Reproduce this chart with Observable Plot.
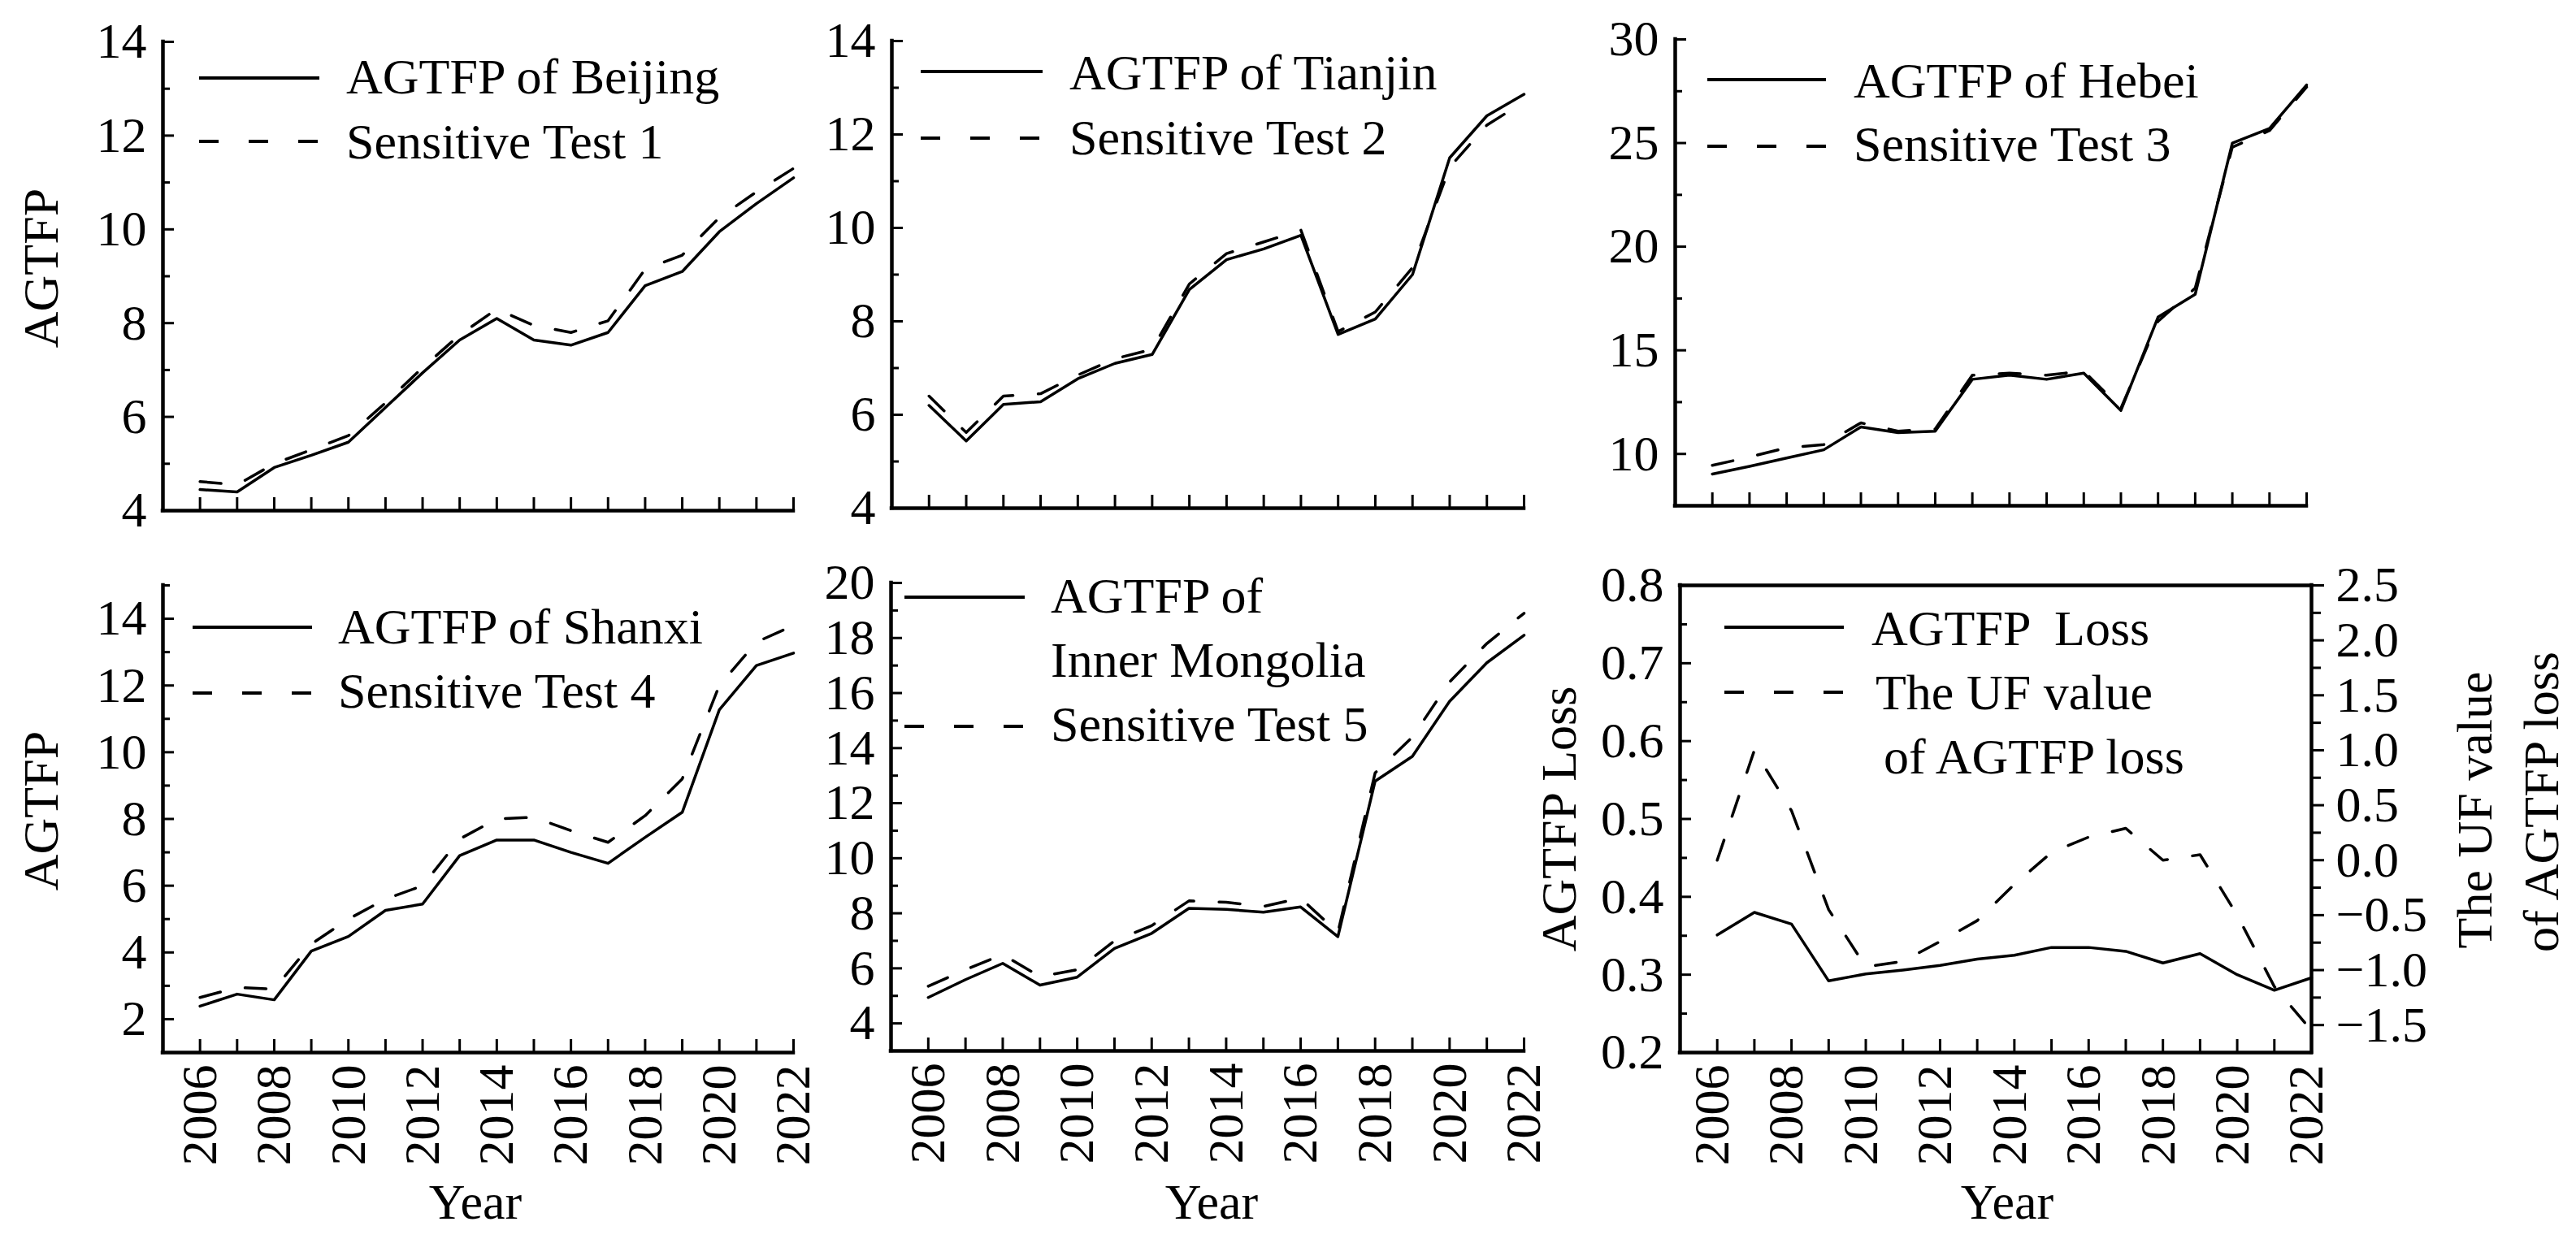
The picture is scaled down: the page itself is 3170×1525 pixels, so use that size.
<!DOCTYPE html>
<html><head><meta charset="utf-8">
<script src="https://cdn.jsdelivr.net/npm/d3@7"></script>
<script src="https://cdn.jsdelivr.net/npm/@observablehq/plot@0.6"></script>
<style>
html,body{margin:0;padding:0;background:#fff;}
#chart{position:relative;width:3170px;height:1525px;background:#fff;overflow:hidden;}
#chart svg{position:absolute;left:0;top:0;}
</style></head><body><div id="chart"></div>
<script>
// ---------------- data ----------------
const years = [2006,2007,2008,2009,2010,2011,2012,2013,2014,2015,2016,2017,2018,2019,2020,2021,2022];
const labelYears = [2006,2008,2010,2012,2014,2016,2018,2020,2022];

const beijing = [4.45,4.4,4.92,5.18,5.46,6.2,6.94,7.64,8.1,7.64,7.53,7.8,8.8,9.1,9.95,10.55,11.1];
const test1   = [4.62,4.55,5.0,5.3,5.6,6.3,7.05,7.75,8.3,7.95,7.8,8.05,9.15,9.45,10.25,10.8,11.3];
const tianjin = [6.2,5.44,6.22,6.28,6.77,7.1,7.29,8.68,9.32,9.55,9.84,7.72,8.05,9.0,11.5,12.4,12.86];
const test2   = [6.4,5.62,6.4,6.45,6.85,7.2,7.4,8.8,9.45,9.7,9.95,7.78,8.2,9.15,11.3,12.2,12.7];
const hebei   = [9.03,9.4,9.8,10.2,11.3,11.03,11.1,13.6,13.8,13.6,13.9,12.1,16.6,17.7,25.0,25.7,27.8];
const test3   = [9.45,9.85,10.3,10.45,11.5,11.1,11.2,13.8,13.9,13.8,14.0,12.2,16.4,18.0,24.8,25.6,27.7];
const shanxi  = [2.39,2.75,2.58,4.04,4.48,5.26,5.45,6.9,7.37,7.37,7.0,6.67,7.45,8.2,11.27,12.6,12.97];
const test4   = [2.65,2.95,2.9,4.25,5.0,5.6,6.0,7.4,8.0,8.05,7.65,7.3,8.1,9.2,12.0,13.3,13.8];
const inner   = [4.94,5.59,6.18,5.39,5.68,6.72,7.27,8.18,8.14,8.04,8.23,7.15,12.8,13.7,15.7,17.1,18.1];
const test5   = [5.35,5.95,6.5,5.7,5.95,7.0,7.55,8.45,8.4,8.25,8.55,7.3,13.1,14.4,16.4,17.8,18.9];
const loss    = [0.351,0.38,0.365,0.292,0.301,0.306,0.312,0.32,0.325,0.335,0.335,0.33,0.315,0.327,0.30,0.28,0.296];
const ufValue = [0.0,1.0,0.45,-0.45,-0.97,-0.92,-0.74,-0.55,-0.22,0.07,0.21,0.29,0.0,0.05,-0.5,-1.15,-1.55];

// tick values
const ticksBJ = [4,6,8,10,12,14],   minorBJ = [5,7,9,11,13];
const ticksHB = [10,15,20,25,30],   minorHB = [12.5,17.5,22.5,27.5];
const ticksSX = [2,4,6,8,10,12,14], minorSX = [3,5,7,9,11,13,15];
const ticksIM = [4,6,8,10,12,14,16,18,20], minorIM = [5,7,9,11,13,15,17,19];
const ticksLoss = [0.2,0.3,0.4,0.5,0.6,0.7,0.8], minorLoss = [0.25,0.35,0.45,0.55,0.65,0.75];
const ticksUF = [-1.5,-1.0,-0.5,0.0,0.5,1.0,1.5,2.0,2.5], minorUF = [-1.25,-0.75,-0.25,0.25,0.75,1.25,1.75,2.25];

// ---------------- style ----------------
const FONT = '"Liberation Serif","Times New Roman",Times,serif';
const FS = 62;
const W = 3170, H = 1525;
const DASH = "26,31";
const LW = 3.5, AW = 4.5, TW = 3;
const root = document.getElementById("chart");

function addText(svg, txt, x, y, o = {}) {
  const t = d3.select(svg).append("text")
    .attr("x", x).attr("y", y)
    .attr("font-family", FONT).attr("font-size", o.size || FS)
    .attr("fill", "black").attr("text-anchor", o.anchor || "start")
    .style("white-space", "pre").text(txt);
  if (o.rotate) t.attr("transform", `rotate(${o.rotate} ${x} ${y})`);
  return t;
}
function legendLine(svg, x1, x2, y, dashed) {
  d3.select(svg).append("line").attr("x1", x1).attr("x2", x2).attr("y1", y).attr("y2", y)
    .attr("stroke", "black").attr("stroke-width", 4)
    .attr("stroke-dasharray", dashed ? "24,37" : null);
}

function makePanel(p) {
  const rows = years.map((year, i) => ({year, a: p.solid[i], b: p.dashed[i]}));
  const fmt = p.fmt || (d => String(d));
  const marks = [
    Plot.ruleY([p.yDomain[0]], {stroke: "black", strokeWidth: AW, strokeLinecap: "square"}),
    Plot.ruleX([2005], {stroke: "black", strokeWidth: AW, strokeLinecap: "square"}),
    Plot.axisX(years, {tickSize: 16, dy: -16, fill: "none", strokeWidth: TW, label: null}),
    Plot.axisY(p.major, {tickSize: 14, dx: 14, fill: "none", strokeWidth: TW, label: null}),
    Plot.axisY(p.minor, {tickSize: 9, dx: 9, fill: "none", strokeWidth: TW, label: null}),
    Plot.axisY(p.major, {tickSize: 0, tickPadding: 20, fontSize: FS, tickFormat: fmt, label: null}),
    Plot.line(rows, {x: "year", y: "b", stroke: "black", strokeWidth: LW, strokeDasharray: DASH}),
    Plot.line(rows, {x: "year", y: "a", stroke: "black", strokeWidth: LW})
  ];
  if (p.extra) marks.push(...p.extra);
  if (p.showX) marks.push(Plot.axisX(labelYears, {tickSize: 0, tickRotate: -90, tickPadding: 15, dx: p.labelDx || 0, fontSize: FS, tickFormat: d => String(d), label: null}));
  const svg = Plot.plot({
    width: W, height: H,
    marginLeft: p.left, marginRight: W - p.right, marginTop: p.top, marginBottom: H - p.bottom,
    x: {domain: [2005, 2022], axis: null},
    y: {domain: p.yDomain, axis: null},
    style: {background: "transparent", fontFamily: FONT, fontSize: FS + "px", color: "black", overflow: "visible"},
    marks
  });
  root.appendChild(svg);
  return svg;
}

// ---------- Panel 1: Beijing ----------
let s = makePanel({left: 200, right: 976, top: 51, bottom: 628, yDomain: [4, 14], major: ticksBJ, minor: minorBJ, solid: beijing, dashed: test1});
addText(s, "AGTFP", 71, 330, {anchor: "middle", rotate: -90});
legendLine(s, 245, 393, 96, false); addText(s, "AGTFP of Beijing", 426, 115);
legendLine(s, 245, 393, 174, true); addText(s, "Sensitive Test 1", 426, 195);

// ---------- Panel 2: Tianjin ----------
s = makePanel({left: 1097, right: 1875, top: 50, bottom: 625, yDomain: [4, 14], major: ticksBJ, minor: minorBJ, solid: tianjin, dashed: test2});
legendLine(s, 1133, 1283, 88, false); addText(s, "AGTFP of Tianjin", 1316, 110);
legendLine(s, 1133, 1283, 170, true); addText(s, "Sensitive Test 2", 1316, 190);

// ---------- Panel 3: Hebei ----------
s = makePanel({left: 2061, right: 2838, top: 48, bottom: 622, yDomain: [7.5, 30], major: ticksHB, minor: minorHB, solid: hebei, dashed: test3});
legendLine(s, 2101, 2247, 98, false); addText(s, "AGTFP of Hebei", 2281, 120);
legendLine(s, 2101, 2247, 180, true); addText(s, "Sensitive Test 3", 2281, 198);

// ---------- Panel 4: Shanxi ----------
s = makePanel({left: 200, right: 976, top: 720, bottom: 1295, yDomain: [1, 15], major: ticksSX, minor: minorSX, solid: shanxi, dashed: test4, showX: true});
addText(s, "AGTFP", 71, 998, {anchor: "middle", rotate: -90});
addText(s, "Year", 585, 1500, {anchor: "middle"});
legendLine(s, 237, 384, 772, false); addText(s, "AGTFP of Shanxi", 416, 792);
legendLine(s, 237, 384, 853, true); addText(s, "Sensitive Test 4", 416, 871);

// ---------- Panel 5: Inner Mongolia ----------
s = makePanel({left: 1096, right: 1875, top: 717, bottom: 1293, yDomain: [3, 20], major: ticksIM, minor: minorIM, solid: inner, dashed: test5, showX: true});
addText(s, "Year", 1491, 1500, {anchor: "middle"});
legendLine(s, 1113, 1261, 735, false); addText(s, "AGTFP of", 1293, 754);
addText(s, "Inner Mongolia", 1293, 833);
legendLine(s, 1113, 1261, 894, true); addText(s, "Sensitive Test 5", 1293, 912);

// ---------- Panel 6: AGTFP loss & UF ----------
const ufLo = -1.75, ufHi = 2.5, lossLo = 0.2, lossHi = 0.8;
const toLeft = u => lossLo + (u - ufLo) * (lossHi - lossLo) / (ufHi - ufLo);
const fromLeft = v => ufLo + (v - lossLo) * (ufHi - ufLo) / (lossHi - lossLo);
const fmtUF = v => { const u = Math.round(fromLeft(v) * 100) / 100; return u.toFixed(1).replace("-", "\u2212"); };
const ufRows = years.map((year, i) => ({year, u: toLeft(ufValue[i])}));
s = makePanel({
  left: 2067, right: 2844, top: 720, bottom: 1295, yDomain: [lossLo, lossHi],
  major: ticksLoss, minor: minorLoss, solid: loss, dashed: loss.map(() => NaN), showX: true, labelDx: -6,
  fmt: d => d.toFixed(1),
  extra: [
    Plot.ruleY([lossHi], {stroke: "black", strokeWidth: AW, strokeLinecap: "square"}),
    Plot.ruleX([2022], {stroke: "black", strokeWidth: AW, strokeLinecap: "square"}),
    Plot.axisY(ticksUF.map(toLeft), {anchor: "right", tickSize: 15, fill: "none", strokeWidth: TW, label: null}),
    Plot.axisY(minorUF.map(toLeft), {anchor: "right", tickSize: 11, fill: "none", strokeWidth: TW, label: null}),
    Plot.axisY(ticksUF.map(toLeft), {anchor: "right", tickSize: 0, tickPadding: 30, fontSize: FS, tickFormat: fmtUF, label: null}),
    Plot.line(ufRows, {x: "year", y: "u", stroke: "black", strokeWidth: LW, strokeDasharray: DASH})
  ]
});
addText(s, "AGTFP Loss", 1939, 1008, {anchor: "middle", rotate: -90});
addText(s, "The UF value", 3066, 997, {anchor: "middle", rotate: -90});
addText(s, "of AGTFP loss", 3148, 987, {anchor: "middle", rotate: -90});
addText(s, "Year", 2470, 1500, {anchor: "middle"});
legendLine(s, 2122, 2269, 772, false); addText(s, "AGTFP  Loss", 2303, 794);
legendLine(s, 2122, 2269, 852, true); addText(s, "The UF value", 2308, 873);
addText(s, "of AGTFP loss", 2318, 952);
</script></body></html>
